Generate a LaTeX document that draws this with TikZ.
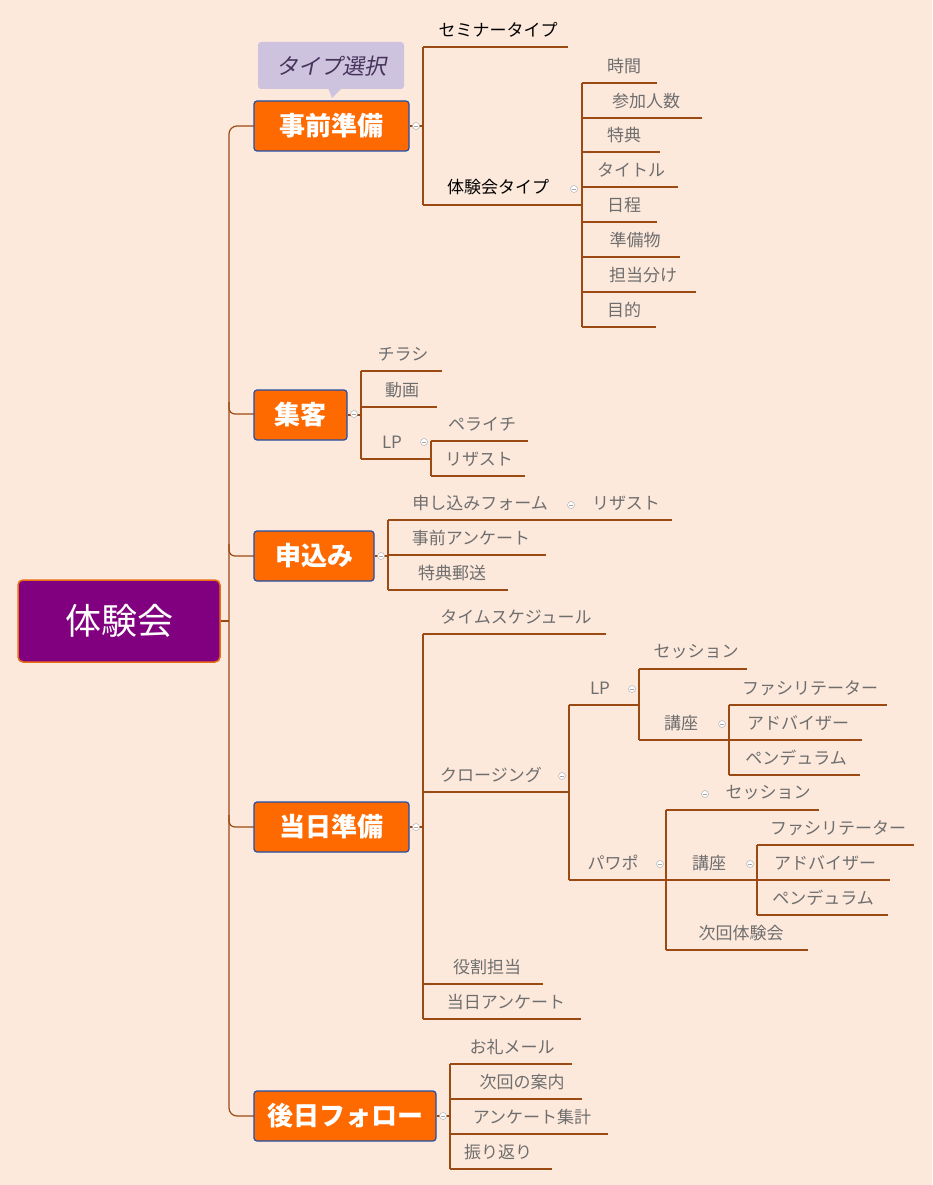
\documentclass[tikz,border=0pt]{standalone}
\usepackage{fontspec}
\setmainfont{Noto Sans CJK JP}
\definecolor{bg}{HTML}{FDE9DC}
\definecolor{lineC}{HTML}{9A4A12}
\definecolor{txtC}{HTML}{6E6E6E}
\definecolor{nodeO}{HTML}{FF6A00}
\definecolor{nodeB}{HTML}{1F4FA8}
\definecolor{centF}{HTML}{800080}
\definecolor{centB}{HTML}{E66E14}
\definecolor{callF}{HTML}{CDC3DE}
\definecolor{callT}{HTML}{46325A}
\begin{document}
\begin{tikzpicture}[x=1pt,y=-1pt,
  ln/.style={draw=lineC,line width=1.2pt},
  lbl/.style={text=txtC,font=\fontsize{17}{17}\selectfont,inner sep=0pt},
  main/.style={fill=nodeO,draw=nodeB,line width=1.2pt,rounded corners=3pt,text=white,font=\fontsize{26}{26}\selectfont\bfseries},
  tog/.style={circle,draw=gray!60,fill=white,minimum size=7pt,inner sep=0pt,line width=0.5pt}]
\fill[bg] (0,0) rectangle (932,1185);
\useasboundingbox (0,0) rectangle (932,1185);
% trunk
\draw[ln,rounded corners=8pt] (254,126) -- (229,126) -- (229,1116) -- (254,1116);
\foreach \yy in {414,556,827} \draw[ln,rounded corners=6pt] (229,\yy-12) -- (229,\yy) -- (254,\yy);
\draw[ln] (220,621) -- (229,621);
% center
\node[fill=centF,draw=centB,line width=1.5pt,rounded corners=5pt,minimum width=202pt,minimum height=82pt,text=white,font=\fontsize{36}{36}\selectfont] (center) at (119,621) {体験会};
% callout
\fill[callF,rounded corners=3pt] (258,42) rectangle (404,89);
\fill[callF] (328,88) -- (342,88) -- (332,98) -- cycle;
\node[text=callT,font=\fontsize{22}{22}\selectfont] (call) at (331,66) {\addfontfeature{FakeSlant=0.2}タイプ選択};
% main nodes
\node[main,minimum width=155pt,minimum height=50pt] (m1) at (331.5,126) {事前準備};
\node[main,minimum width=93pt,minimum height=50pt] (m2) at (300.5,415) {集客};
\node[main,minimum width=120pt,minimum height=50pt] (m3) at (314,556) {申込み};
\node[main,minimum width=155pt,minimum height=50pt] (m4) at (331.5,827) {当日準備};
\node[main,minimum width=182pt,minimum height=50pt] (m5) at (345,1116) {後日フォロー};
% bars
\draw[ln] (m1.east) -- (423,126); \draw[ln] (423,47) -- (423,205);
\draw[ln] (582,83) -- (582,327);
\draw[ln] (m2.east) -- (361,415); \draw[ln] (361,371) -- (361,459);
\draw[ln] (431,441) -- (431,476);
\draw[ln] (m3.east) -- (388,556); \draw[ln] (388,520) -- (388,590);
\draw[ln] (m4.east) -- (423,827); \draw[ln] (423,634) -- (423,1019);
\draw[ln] (569,705) -- (569,880);
\draw[ln] (639,669) -- (639,740);
\draw[ln] (729,705) -- (729,775);
\draw[ln] (666,810) -- (666,950);
\draw[ln] (757,845) -- (757,915);
\draw[ln] (m5.east) -- (450,1116); \draw[ln] (450,1064) -- (450,1169);
\foreach \bx/\uy/\ex/\tx/\t [count=\i] in {
 582/83/657/624/時間, 582/118/702/646/参加人数, 582/152/660/624/特典, 582/187/678/631/タイトル,
 582/222/657/624/日程, 582/257/680/635/準備物, 582/292/696/643/担当分け, 582/327/656/624/目的,
 361/371/442/403/チラシ, 361/407/437/402/動画, 361/459/431/392/LP,
 431/441/528/482/ペライチ, 431/476/525/479/リザスト,
 388/520/672/480/申し込みフォーム, 388/555/546/471/事前アンケート, 388/590/508/452/特典郵送,
 423/634/606/516/タイムスケジュール, 423/792/569/491/クロージング, 423/984/543/487/役割担当, 423/1019/581/506/当日アンケート,
 569/705/639/600/LP, 569/880/666/613/パワポ,
 639/669/747/696/セッション, 639/740/729/681/講座,
 729/705/887/810/ファシリテーター, 729/740/862/798/アドバイザー, 729/775/860/796/ペンデュラム,
 666/810/819/768/セッション, 666/880/757/709/講座, 666/950/808/741/次回体験会,
 757/845/914/838/ファシリテーター, 757/880/890/825/アドバイザー, 757/915/888/823/ペンデュラム,
 450/1064/572/512/お礼メール, 450/1099/582/522/次回の案内, 450/1134/608/532/アンケート集計, 450/1169/552/498/振り返り}
 { \draw[ln] (\bx,\uy) -- (\ex,\uy);
   \node[lbl] (t\i) at (\tx,\uy-17) {\t}; }
\node[lbl] (rz) at (626,503) {リザスト};
\draw[ln] (423,47) -- (568,47); \node[lbl,text=black] (sem) at (498,30) {セミナータイプ};
\draw[ln] (423,205) -- (582,205); \node[lbl,text=black] (tai) at (498,187) {体験会タイプ};
\foreach \p in {(416,126),(574,189),(354,414),(424,442),(381,556),(571,505),(416,827),(562,776),(632,689),(722,724),(705,794),(660,864),(750,864),(443,1116)}
 { \node[tog] at \p {}; \draw[gray!70,line width=0.5pt] \p ++(-2,0) -- ++(4,0); }
\end{tikzpicture}
\end{document}
